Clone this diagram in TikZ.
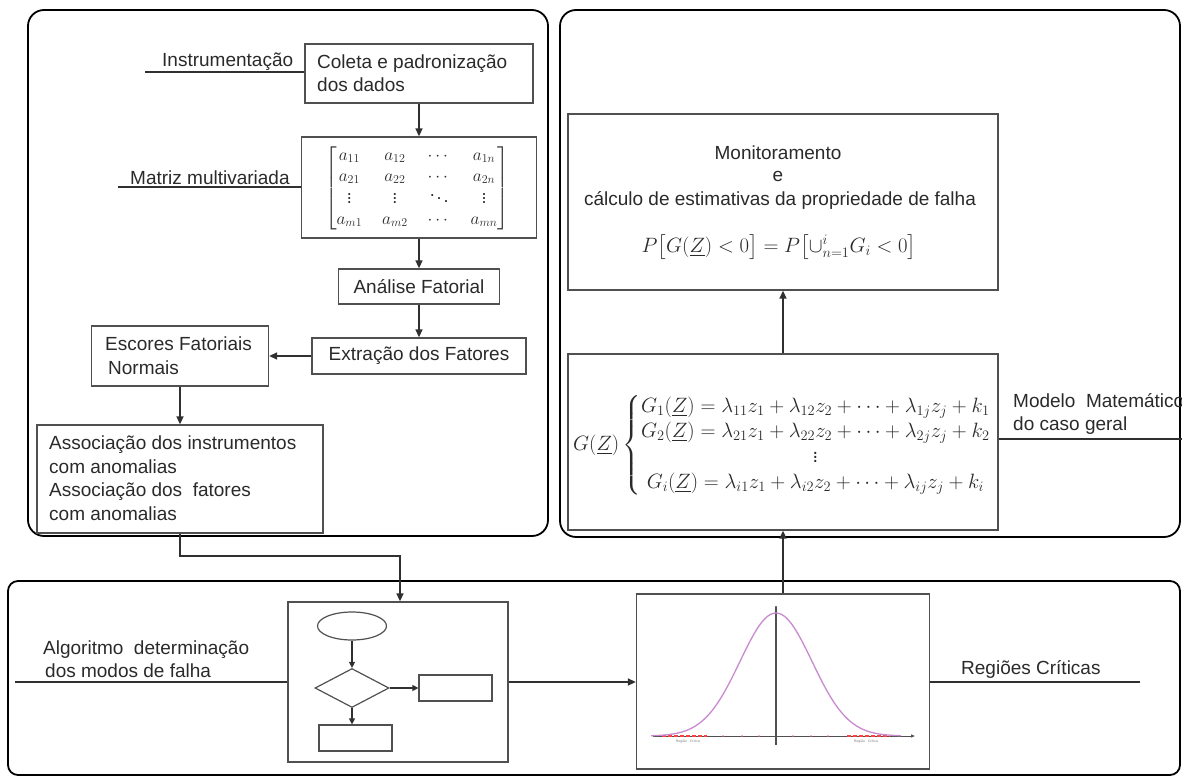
\documentclass[tikz,border=0pt]{standalone}
\usepackage{amsmath}
\usepackage[no-math]{fontspec}
\setmainfont{Liberation Sans}
\usetikzlibrary{arrows.meta,shapes.geometric}
\definecolor{boxgray}{HTML}{505050}
\definecolor{linegray}{HTML}{303030}
\definecolor{txtc}{HTML}{2A2A2A}
\definecolor{curvec}{HTML}{C98AD0}
\tikzset{
  box/.style={draw=boxgray, line width=1.3pt, inner sep=0pt},
  panel/.style={draw=black, line width=1.8pt, rounded corners=16pt},
  conn/.style={draw=linegray, line width=1.4pt},
  arr/.style={conn, -{Triangle[length=8pt,width=7pt]}},
  sarr/.style={conn, line width=1.2pt, -{Triangle[length=6pt,width=6pt]}},
  txt/.style={inner sep=0pt, font=\fontsize{19}{23}\selectfont, text=txtc},
  lbl/.style={txt, anchor=base west},
  ctr/.style={txt, anchor=base},
  mth/.style={inner sep=0pt, text=txtc},
}
\begin{document}
\begin{tikzpicture}[x=1pt,y=-1pt]
\useasboundingbox (0,0) rectangle (1182,778);
% panels
\draw[panel] (28,10) rectangle (548,536);
\draw[panel] (560,10) rectangle (1180,537);
\draw[panel, rounded corners=10pt] (8,581) rectangle (1180,775);

% left column boxes
\node[box, minimum width=228pt, minimum height=59pt] (coleta) at (419,73.5) {};
\node[box, minimum width=235pt, minimum height=101pt] (mat) at (419,187.5) {};
\node[box, minimum width=161pt, minimum height=35pt] (analise) at (419,286.5) {};
\node[box, minimum width=214pt, minimum height=36pt] (extracao) at (419,356) {};
\node[box, minimum width=177pt, minimum height=60pt] (escores) at (180,356) {};
\node[box, minimum width=286pt, minimum height=108pt] (assoc) at (180,479) {};

% left texts
\node[lbl] (tinst) at (162,67) {Instrumentação};
\node[lbl] (tmatr) at (130,184) {Matriz multivariada};
\node[lbl] (tcol1) at (317,69) {Coleta e padronização};
\node[lbl] (tcol2) at (317,92) {dos dados};
\node[txt] (tana) at (analise.center) {Análise Fatorial};
\node[txt] (text) at (extracao.center) {Extração dos Fatores};
\node[lbl] (tesc1) at (105,350) {Escores Fatoriais};
\node[lbl] (tesc2) at (108,374) {Normais};
\node[lbl] (tas1) at (49,449) {Associação dos instrumentos};
\node[lbl] (tas2) at (49,473) {com anomalias};
\node[lbl] (tas3) at (49,496) {Associação dos \ fatores};
\node[lbl] (tas4) at (49,520) {com anomalias};

\node[mth, font=\fontsize{18}{20}\selectfont] (tmat) at (417,188)
 {$\renewcommand{\arraystretch}{1.05}\setlength{\arraycolsep}{10pt}\begin{bmatrix}
 a_{11} & a_{12} & \cdots & a_{1n}\\
 a_{21} & a_{22} & \cdots & a_{2n}\\
 \vdots & \vdots & \ddots & \vdots\\
 a_{m1} & a_{m2} & \cdots & a_{mn}\end{bmatrix}$};

% left connectors
\coordinate (instA) at (145,72);
\draw[conn] (instA) -- (instA -| coleta.west);
\coordinate (matA) at (118,187);
\draw[conn] (matA) -- (matA -| mat.west);
\draw[arr] (coleta.south) -- (mat.north);
\draw[arr] (mat.south) -- (analise.north);
\draw[arr] (analise.south) -- (extracao.north);
\draw[arr] (extracao.west) -- (escores.east);
\draw[arr] (escores.south) -- (assoc.north);

% right panel
\node[box, minimum width=430pt, minimum height=176pt] (monitor) at (783,202) {};
\node[box, minimum width=430pt, minimum height=176pt] (gbox) at (783,442) {};
\node[ctr] (tmon1) at (778,160) {Monitoramento};
\node[ctr] (tmon2) at (778,182) {e};
\node[ctr] (tmon3) at (780,205) {cálculo de estimativas da propriedade de falha};
\node[mth, font=\fontsize{20}{24}\selectfont] (fmon) at (779,247)
 {$P\bigl[G(\underline{Z}) < 0\bigr] = P\bigl[\cup_{n=1}^{i} G_i < 0\bigr]$};
\node[mth, font=\fontsize{19.8}{22}\selectfont] (fg) at (782,445)
 {$G(\underline{Z})\left\{\renewcommand{\arraystretch}{1.15}\begin{array}{@{}c@{}}
 G_1(\underline{Z}) = \lambda_{11}z_1 + \lambda_{12}z_2 + \cdots + \lambda_{1j}z_j + k_1\\
 G_2(\underline{Z}) = \lambda_{21}z_1 + \lambda_{22}z_2 + \cdots + \lambda_{2j}z_j + k_2\\
 \vdots\\
 G_i(\underline{Z}) = \lambda_{i1}z_1 + \lambda_{i2}z_2 + \cdots + \lambda_{ij}z_j + k_i
 \end{array}\right.$};
\node[lbl] (tmod1) at (1013,407) {Modelo \ Matemático};
\node[lbl] (tmod2) at (1013,430) {do caso geral};
\coordinate (modB) at (1182,439);
\draw[conn] (gbox.east |- modB) -- (modB);
\draw[arr] (gbox.north) -- (monitor.south);

% bottom panel
\node[box, minimum width=220pt, minimum height=160pt] (algbox) at (398,682) {};
\node[box, minimum width=293pt, minimum height=175pt] (normal) at (783,681.5) {};
\node[lbl] (talg1) at (43,654) {Algoritmo \ determinação};
\node[lbl] (talg2) at (45,677) {dos modos de falha};
\node[lbl] (treg) at (961,674) {Regiões Críticas};

% inner flowchart
\node[draw=boxgray, line width=1.2pt, ellipse, inner sep=0pt, minimum width=69pt, minimum height=28pt] (ell) at (352,626) {};
\node[draw=boxgray, line width=1.2pt, diamond, inner sep=0pt, minimum width=74pt, minimum height=39pt] (dia) at (352,688) {};
\node[box, line width=1.2pt, minimum width=73pt, minimum height=26pt] (rbox) at (455.5,688) {};
\node[box, line width=1.2pt, minimum width=73pt, minimum height=26pt] (bbox) at (355.5,738) {};
\draw[sarr] (ell.south) -- (dia.north);
\draw[sarr] (dia.east) -- (rbox.west);
\draw[sarr] (dia.south) -- (dia.south |- bbox.north);

% normal curve
\draw[boxgray, line width=1pt, -{Triangle[length=4pt,width=3pt]}] (653,736) -- (915,736);
\draw[boxgray, line width=1.2pt] (776,745) -- (776,607);
\fill[boxgray] (776,607) circle (1.2pt);
\draw[red!75, line width=1.4pt, dash pattern=on 4pt off 2pt] (662,736) -- (707,736);
\draw[red!75, line width=1.4pt, dash pattern=on 4pt off 2pt] (847,736) -- (890,736);
\foreach \q in {723,742,759,793,811,828} \fill[red!60] (\q,736) circle (0.9pt);
\draw[curvec, line width=1.3pt] plot[domain=-125:125, samples=120, smooth]
  ({776+\x}, {736-123*exp(-0.5*(\x/36)*(\x/36))});
\node[inner sep=0pt, font=\fontsize{3.5}{4}\selectfont, text=gray] (tcr1) at (688,742) {Região \ \ Crítica};
\node[inner sep=0pt, font=\fontsize{3.5}{4}\selectfont, text=gray] (tcr2) at (866,742) {Região \ \ Crítica};

% bottom connectors
\coordinate (c1) at (400,556);
\draw[arr] (assoc.south) |- (c1) -- (c1 |- algbox.north);
\coordinate (algA) at (15,682);
\draw[conn] (algA) -- (algA -| algbox.west);
\draw[arr] (algbox.east) -- (algbox.east -| normal.west);
\coordinate (regB) at (1140,682);
\draw[conn] (normal.east |- regB) -- (regB);
\draw[arr] (normal.north) -- (gbox.south);
\end{tikzpicture}
\end{document}
